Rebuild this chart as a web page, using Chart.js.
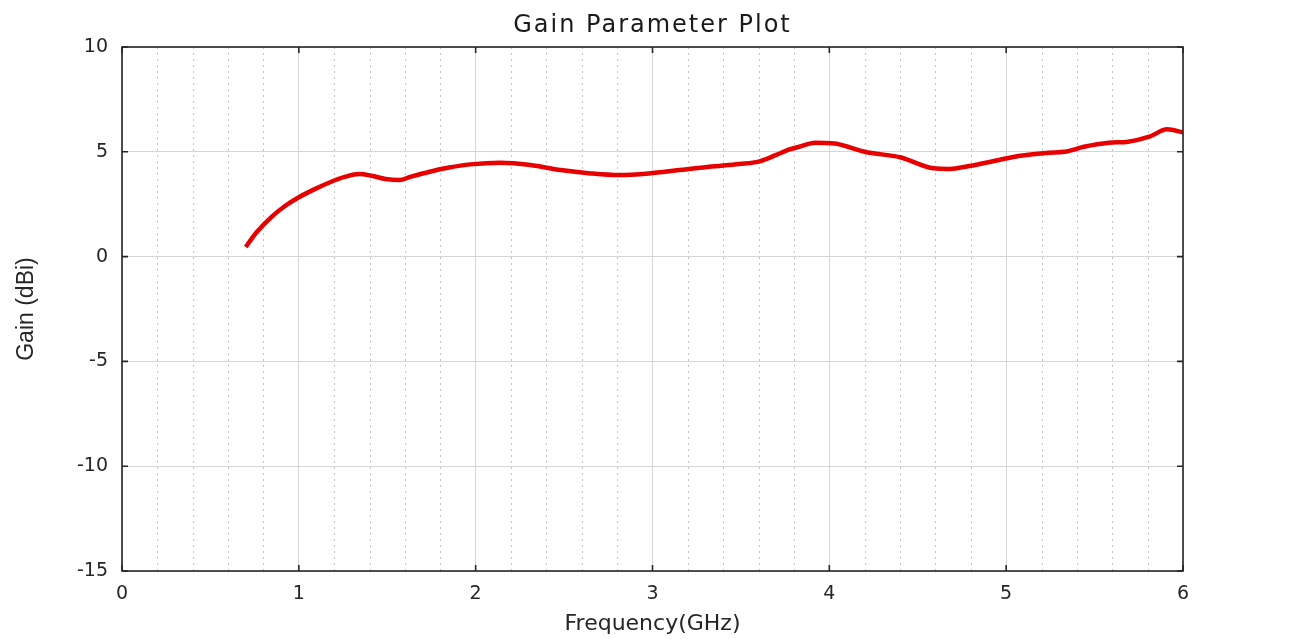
<!DOCTYPE html>
<html>
<head>
<meta charset="utf-8">
<title>Gain Parameter Plot</title>
<script src="https://cdn.jsdelivr.net/npm/chart.js@4.4.1/dist/chart.umd.min.js"></script>
<style>
    html, body { margin: 0; padding: 0; background: #ffffff; }
    #wrap { width: 1316px; height: 639px; }
</style>
</head>
<body>
<div id="wrap"><canvas id="gainChart" width="1316" height="639"></canvas></div>
<script>
// valeurs (GHz / dBi)
const freqGHz = [0.70, 0.76, 0.84, 0.92, 1.00, 1.09, 1.18, 1.26, 1.34, 1.41, 1.49, 1.57, 1.63, 1.74, 1.85,
    1.97, 2.14, 2.31, 2.48, 2.65, 2.81, 2.98, 3.15, 3.32, 3.49, 3.60, 3.70, 3.77, 3.83, 3.92, 4.03, 4.12,
    4.20, 4.40, 4.59, 4.68, 4.79, 4.96, 5.07, 5.24, 5.33, 5.44, 5.58, 5.69, 5.81, 5.91, 6.00];
const gainDbi = [0.46, 1.15, 1.85, 2.40, 2.83, 3.22, 3.56, 3.80, 3.94, 3.86, 3.70, 3.65, 3.80, 4.05, 4.25,
    4.40, 4.48, 4.37, 4.13, 3.97, 3.89, 3.97, 4.13, 4.29, 4.42, 4.53, 4.85, 5.10, 5.24, 5.43, 5.40, 5.20,
    5.00, 4.74, 4.21, 4.18, 4.32, 4.61, 4.80, 4.96, 5.00, 5.24, 5.43, 5.48, 5.72, 6.07, 5.93];

const xTicks = [0, 1, 2, 3, 4, 5, 6];
const yTicks = [-15, -10, -5, 0, 5, 10];
const minorStep = 0.2;

const chartTitle = 'Gain Parameter Plot';
const xLabel = 'Frequency(GHz)';
const yLabel = 'Gain (dBi)';

const axisColor = '#262626';

// grille mineure pointillée + cadre + graduations vers l'intérieur + titre
const matlabFrame = {
    id: 'matlabFrame',
    beforeDatasetsDraw(chart) {
        const {ctx, chartArea, scales} = chart;
        ctx.save();
        ctx.strokeStyle = '#c4c4c4';
        ctx.lineWidth = 1;
        ctx.setLineDash([2, 4]);
        for (let i = 1; i < Math.round(6 / minorStep); i++) {
            const v = i * minorStep;
            if (Math.abs(v - Math.round(v)) < 1e-6) continue;
            const px = Math.round(scales.x.getPixelForValue(v)) + 0.5;
            ctx.beginPath();
            ctx.moveTo(px, chartArea.top);
            ctx.lineTo(px, chartArea.bottom);
            ctx.stroke();
        }
        ctx.restore();
    },
    afterDraw(chart) {
        const {ctx, chartArea, scales} = chart;
        const tick = 6;
        ctx.save();
        ctx.strokeStyle = axisColor;
        ctx.lineWidth = 1.6;
        ctx.strokeRect(chartArea.left, chartArea.top, chartArea.right - chartArea.left, chartArea.bottom - chartArea.top);
        ctx.beginPath();
        xTicks.forEach(v => {
            const px = scales.x.getPixelForValue(v);
            ctx.moveTo(px, chartArea.bottom);
            ctx.lineTo(px, chartArea.bottom - tick);
            ctx.moveTo(px, chartArea.top);
            ctx.lineTo(px, chartArea.top + tick);
        });
        yTicks.forEach(v => {
            const py = scales.y.getPixelForValue(v);
            ctx.moveTo(chartArea.left, py);
            ctx.lineTo(chartArea.left + tick, py);
            ctx.moveTo(chartArea.right, py);
            ctx.lineTo(chartArea.right - tick, py);
        });
        ctx.stroke();

        ctx.fillStyle = '#1a1a1a';
        ctx.font = '24px "DejaVu Sans"';
        ctx.letterSpacing = '2px';
        ctx.textAlign = 'center';
        ctx.textBaseline = 'middle';
        ctx.fillText(chartTitle, (chartArea.left + chartArea.right) / 2, 26);
        ctx.restore();
    }
};

const ctxGain = document.getElementById('gainChart').getContext('2d');

window.gainChart = new Chart(ctxGain, {
    type: 'line',
    data: {
        datasets: [{
            label: 'Gain',
            data: freqGHz.map((f, i) => ({x: f, y: gainDbi[i]})),
            borderColor: 'rgb(232, 0, 0)',
            borderWidth: 4.5,
            pointRadius: 0,
            fill: false,
            tension: 0.4,
            cubicInterpolationMode: 'monotone',
        }],
    },
    options: {
        responsive: false,
        animation: false,
        devicePixelRatio: 1,
        layout: {
            padding: {top: 47, right: 133, left: 0, bottom: 0},
        },
        plugins: {
            legend: {display: false},
            tooltip: {enabled: false},
            title: {display: false},
        },
        scales: {
            x: {
                type: 'linear',
                min: 0,
                max: 6,
                afterBuildTicks: scale => { scale.ticks = xTicks.map(v => ({value: v})); },
                afterFit: scale => { scale.height = 68; },
                grid: {color: '#d6d6d6', lineWidth: 1, drawTicks: false},
                border: {display: false},
                ticks: {
                    color: axisColor,
                    padding: 12,
                    maxRotation: 0,
                    font: {family: 'DejaVu Sans', size: 19},
                },
                title: {
                    display: true,
                    text: xLabel,
                    color: axisColor,
                    font: {family: 'DejaVu Sans', size: 22},
                    padding: {top: 0, bottom: 2},
                },
            },
            y: {
                type: 'linear',
                min: -15,
                max: 10,
                afterBuildTicks: scale => { scale.ticks = yTicks.map(v => ({value: v})); },
                afterFit: scale => { scale.width = 122; },
                grid: {color: '#d6d6d6', lineWidth: 1, drawTicks: false},
                border: {display: false},
                ticks: {
                    color: axisColor,
                    padding: 14,
                    font: {family: 'DejaVu Sans', size: 19},
                },
                title: {
                    display: true,
                    text: yLabel,
                    color: axisColor,
                    font: {family: 'Liberation Sans', size: 23},
                    padding: {top: 13, bottom: 0},
                },
            },
        },
    },
    plugins: [matlabFrame],
});
</script>
</body>
</html>
